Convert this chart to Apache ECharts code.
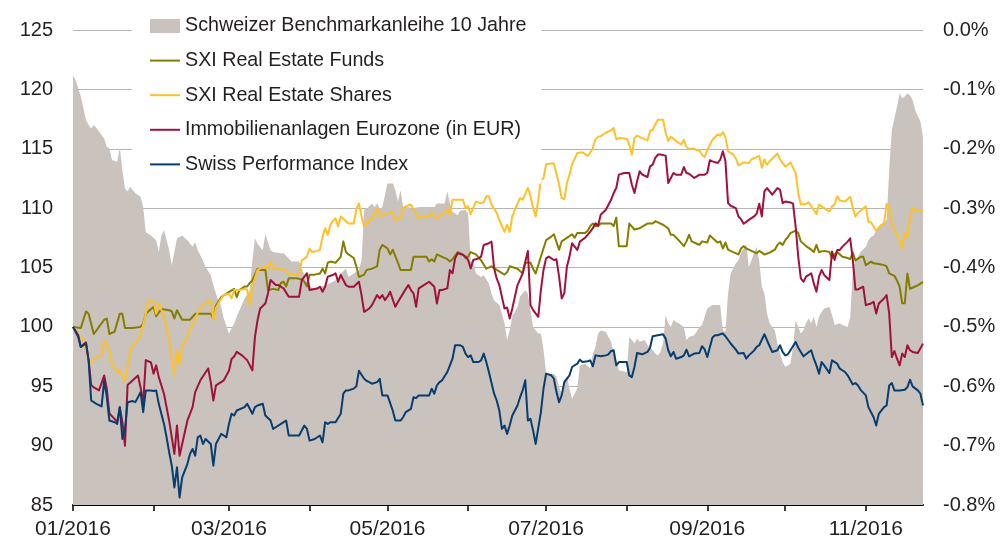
<!DOCTYPE html>
<html>
<head>
<meta charset="utf-8">
<script src="https://cdn.jsdelivr.net/npm/echarts@6/dist/echarts.min.js"></script>
<style>
  html, body { margin: 0; padding: 0; background: #fff; }
  #chart { width: 1001px; height: 539px; }
</style>
</head>
<body>
<div id="chart"></div>
<script>
// Days are counted from 1 January 2016 (day 0 = 01.01.2016).
const seriesNames = [
  'Schweizer Benchmarkanleihe 10 Jahre',
  'SXI Real Estate Funds',
  'SXI Real Estate Shares',
  'Immobilienanlagen Eurozone (in EUR)',
  'Swiss Performance Index'
];

// month starts (ticks) and labelled months
const tickMonths = [0, 1, 2, 3, 4, 5, 6, 7, 8, 9, 10];
const labelMonths = [0, 2, 4, 6, 8, 10];
const tickLabels = ['01/2016', '03/2016', '05/2016', '07/2016', '09/2016', '11/2016'];
const lastDay = 327;

const leftTicks = [85, 90, 95, 100, 105, 110, 115, 120, 125];
const rightTicks = [-0.8, -0.7, -0.6, -0.5, -0.4, -0.3, -0.2, -0.1, 0.0];

// Schweizer Benchmarkanleihe 10 Jahre, yield in %
const bondYield = [[0,-0.076],[1,-0.084],[3,-0.112],[5,-0.152],[6,-0.160],[7,-0.166],[8,-0.160],[10,-0.171],[11,-0.177],[12,-0.183],[13,-0.197],[14,-0.199],[15,-0.219],[17,-0.222],[18,-0.198],[19,-0.236],[20,-0.267],[21,-0.272],[22,-0.264],[23,-0.270],[24,-0.275],[26,-0.281],[27,-0.298],[28,-0.340],[30,-0.346],[32,-0.354],[33,-0.374],[34,-0.346],[35,-0.337],[36,-0.354],[37,-0.371],[38,-0.396],[40,-0.351],[42,-0.346],[44,-0.354],[46,-0.365],[47,-0.357],[48,-0.371],[50,-0.388],[51,-0.399],[53,-0.413],[54,-0.430],[55,-0.444],[57,-0.466],[58,-0.486],[60,-0.511],[62,-0.494],[63,-0.483],[66,-0.452],[68,-0.438],[69,-0.388],[70,-0.351],[71,-0.360],[73,-0.371],[74,-0.343],[76,-0.371],[77,-0.374],[80,-0.376],[81,-0.376],[83,-0.385],[84,-0.390],[87,-0.390],[88,-0.402],[90,-0.424],[92,-0.435],[95,-0.433],[98,-0.428],[100,-0.424],[102,-0.419],[103,-0.410],[105,-0.402],[106,-0.416],[108,-0.410],[110,-0.404],[111,-0.388],[112,-0.303],[113,-0.301],[115,-0.292],[116,-0.298],[117,-0.292],[118,-0.301],[119,-0.298],[121,-0.258],[122,-0.256],[123,-0.257],[124,-0.270],[125,-0.289],[126,-0.270],[127,-0.298],[129,-0.298],[130,-0.301],[133,-0.298],[139,-0.298],[140,-0.292],[143,-0.292],[144,-0.272],[145,-0.292],[146,-0.306],[148,-0.312],[149,-0.304],[151,-0.303],[152,-0.309],[153,-0.388],[154,-0.393],[155,-0.410],[157,-0.416],[158,-0.413],[160,-0.427],[161,-0.444],[162,-0.455],[164,-0.463],[165,-0.478],[166,-0.494],[167,-0.522],[168,-0.506],[169,-0.483],[171,-0.466],[172,-0.449],[174,-0.438],[175,-0.444],[176,-0.472],[177,-0.500],[179,-0.511],[180,-0.511],[181,-0.539],[182,-0.576],[183,-0.581],[185,-0.579],[186,-0.584],[187,-0.601],[188,-0.612],[189,-0.590],[190,-0.584],[191,-0.604],[192,-0.621],[194,-0.604],[195,-0.565],[197,-0.562],[199,-0.570],[200,-0.545],[201,-0.534],[202,-0.511],[203,-0.506],[205,-0.508],[206,-0.517],[207,-0.525],[208,-0.545],[209,-0.556],[210,-0.573],[213,-0.576],[214,-0.517],[215,-0.522],[216,-0.528],[217,-0.520],[218,-0.525],[220,-0.522],[221,-0.531],[223,-0.539],[224,-0.545],[225,-0.548],[226,-0.542],[227,-0.528],[228,-0.480],[229,-0.494],[230,-0.500],[231,-0.488],[232,-0.492],[233,-0.494],[235,-0.500],[236,-0.522],[237,-0.517],[239,-0.514],[241,-0.500],[242,-0.497],[243,-0.483],[244,-0.469],[246,-0.463],[249,-0.463],[250,-0.506],[251,-0.508],[252,-0.444],[253,-0.410],[255,-0.393],[256,-0.388],[257,-0.374],[258,-0.368],[259,-0.360],[260,-0.399],[261,-0.388],[262,-0.376],[263,-0.365],[264,-0.388],[265,-0.433],[266,-0.444],[267,-0.478],[268,-0.494],[270,-0.506],[271,-0.528],[272,-0.545],[273,-0.559],[274,-0.567],[275,-0.565],[276,-0.562],[277,-0.534],[278,-0.489],[279,-0.500],[280,-0.511],[281,-0.506],[282,-0.494],[283,-0.486],[284,-0.494],[285,-0.483],[286,-0.500],[287,-0.483],[288,-0.475],[289,-0.469],[291,-0.466],[292,-0.480],[293,-0.497],[295,-0.494],[296,-0.497],[298,-0.500],[299,-0.483],[300,-0.404],[301,-0.388],[302,-0.382],[303,-0.374],[305,-0.365],[306,-0.354],[307,-0.348],[308,-0.346],[309,-0.337],[310,-0.331],[312,-0.326],[313,-0.320],[314,-0.236],[315,-0.169],[317,-0.129],[318,-0.107],[319,-0.115],[320,-0.112],[321,-0.107],[322,-0.110],[323,-0.118],[324,-0.135],[326,-0.154],[327,-0.180]];

// SXI Real Estate Funds (indexed, 100 = 01.01.2016)
const funds = [[0,100],[3,99.9],[5,101.3],[6,101.1],[8,99.4],[10,100],[12,100.6],[13,100.7],[14,99.4],[16,99.6],[18,101.1],[19,101.1],[20,99.9],[23,99.9],[26,100],[27,100.3],[28,101.1],[31,101.7],[32,100.9],[34,101.5],[37,101.4],[38,101.3],[39,100.7],[40,101.4],[42,100.6],[45,100.6],[47,101.1],[50,101.1],[53,101.1],[54,100.7],[55,101.8],[57,102.5],[59,102.8],[62,103.2],[63,102.5],[64,103.1],[66,103.4],[67,103.4],[68,103.7],[69,103.9],[71,104.9],[72,104.8],[74,104.8],[75,103.1],[77,103.2],[79,103.1],[80,103.7],[81,103.8],[82,103.4],[83,104.1],[86,104.1],[88,104.0],[89,103.8],[90,103.4],[91,104.4],[93,104.4],[95,104.5],[96,104.9],[97,104.5],[98,105.4],[99,105.5],[101,105.4],[103,105.9],[104,107.2],[105,106.3],[106,106.1],[108,105.8],[109,105.1],[110,104.2],[112,104.4],[113,104.8],[115,104.9],[117,105.1],[118,106.5],[119,106.9],[121,106.6],[122,106.1],[123,106.5],[125,105.4],[126,104.8],[128,104.8],[130,104.8],[131,105.9],[132,105.9],[136,105.9],[137,105.5],[138,105.7],[139,105.5],[140,106.1],[142,105.9],[144,105.7],[145,105.5],[146,105.7],[148,106.3],[150,106.1],[151,105.8],[152,105.9],[153,106.3],[155,106.1],[157,105.6],[159,104.9],[161,105.1],[163,104.8],[166,104.4],[167,104.6],[168,105.1],[171,104.9],[173,104.5],[174,105.4],[176,105.4],[177,104.9],[178,104.5],[180,105.9],[181,106.6],[182,107.3],[184,107.6],[185,107.8],[187,106.5],[188,107.2],[190,107.5],[192,107.8],[193,107.5],[194,107.9],[197,107.9],[198,108.1],[199,108.5],[200,108.7],[201,108.5],[202,108.5],[203,108.7],[205,108.7],[207,108.7],[208,108.5],[209,109.2],[210,106.8],[213,106.8],[214,108.7],[216,108.2],[218,108.3],[219,108.45],[221,108.7],[223,108.7],[224,108.9],[225,108.8],[227,108.6],[229,108.3],[230,107.75],[231,107.75],[233,107.3],[235,106.8],[236,107.2],[237,107.75],[238,107.2],[240,107.0],[241,106.9],[242,107.2],[244,107.1],[245,107.7],[247,107.3],[248,107.1],[249,107.2],[250,106.6],[251,107.1],[252,106.5],[254,106.3],[256,106.1],[257,106.6],[258,106.8],[259,106.6],[260,106.5],[262,106.3],[263,106.2],[264,106.4],[266,106.1],[268,106.25],[270,106.5],[271,106.9],[272,107.1],[273,106.9],[274,107.3],[275,107.55],[276,107.9],[278,108.1],[279,107.9],[280,107.2],[282,106.8],[284,106.5],[285,106.3],[286,106.9],[287,106.3],[289,106.4],[291,106.3],[292,105.8],[293,106.1],[294,106.3],[295,106.1],[296,105.9],[298,105.8],[299,105.7],[300,106.25],[301,105.6],[303,105.9],[304,105.9],[305,105.2],[307,105.5],[308,105.35],[310,105.3],[312,105.2],[313,105.1],[314,104.5],[316,104.3],[317,103.9],[318,103.4],[319,102.0],[320,102.0],[321,104.5],[322,103.2],[324,103.4],[325,103.5],[327,103.8]];

// SXI Real Estate Shares
const shares = [[0,100],[3,99.15],[4,98.9],[6,97.2],[7,97.0],[9,97.5],[11,97.6],[12,98.9],[14,98.0],[15,96.9],[17,96.2],[18,96.3],[19,95.9],[20,95.4],[22,98.0],[23,98.45],[24,98.6],[26,99.3],[28,101.1],[29,102.25],[31,102.1],[32,101.1],[33,102.0],[35,100.85],[37,98.9],[38,97.5],[39,95.9],[40,98.0],[41,96.9],[42,98.3],[44,99.15],[45,99.9],[46,100],[47,100.7],[49,101.7],[50,101.8],[51,102.0],[53,102.25],[54,100.6],[55,101.6],[56,102.0],[58,102.7],[60,102.8],[61,102.4],[62,103.1],[64,103.1],[66,103.2],[67,103.15],[68,101.8],[69,103.4],[71,104.8],[72,104.9],[74,105.1],[75,104.9],[76,105.5],[77,104.9],[78,104.9],[82,104.8],[83,104.4],[87,104.4],[88,105.6],[90,105.9],[91,106.6],[92,106.3],[94,106.4],[95,106.5],[96,107.6],[97,108.3],[98,107.75],[99,108.6],[100,108.9],[101,109.15],[102,108.45],[103,109.3],[105,108.9],[106,108.7],[108,108.7],[109,109.9],[110,110.4],[111,109.3],[112,108.45],[113,108.7],[115,109.15],[116,109.45],[117,110.0],[118,109.3],[120,109.45],[123,109.7],[124,109.0],[126,109.15],[127,110.0],[128,110.15],[130,110.3],[131,109.9],[133,109.15],[135,109.3],[137,109.3],[138,109.6],[139,109.3],[140,109.15],[142,109.45],[143,109.7],[144,109.9],[145,109.45],[146,110.7],[148,110.7],[150,110.7],[151,110.0],[152,110.15],[153,109.5],[155,110.55],[157,110.4],[158,110.5],[159,111.0],[160,111.0],[161,110.3],[163,109.6],[164,109.0],[166,108.0],[167,108.6],[168,108.0],[169,109.3],[171,110.4],[172,110.85],[173,110.7],[175,111.7],[176,111.0],[177,110.0],[178,109.3],[179,110.7],[180,112.4],[181,112.5],[182,113.7],[184,113.75],[185,113.75],[187,112.0],[188,110.85],[189,110.75],[190,112.1],[191,112.8],[192,113.7],[193,114.15],[194,114.65],[196,114.7],[198,114.4],[199,114.65],[200,115.07],[201,115.8],[202,116.0],[203,116.06],[205,116.35],[207,116.55],[208,116.75],[209,115.8],[210,115.9],[213,115.85],[214,115.35],[215,114.5],[216,115.9],[217,116.1],[219,115.9],[221,115.7],[222,116.5],[223,116.6],[224,117.05],[225,117.45],[227,117.45],[228,116.35],[229,115.65],[230,116.0],[232,115.65],[234,115.35],[235,115.75],[236,115.15],[237,115.0],[239,115.0],[240,114.85],[241,114.85],[242,114.5],[243,114.3],[244,114.9],[246,115.75],[248,116.2],[249,116.1],[250,116.4],[251,116.0],[252,114.8],[254,114.5],[255,114.2],[256,113.6],[258,113.85],[260,113.8],[261,114.1],[262,114.2],[263,114.3],[264,114.4],[265,113.4],[266,114.1],[267,113.65],[268,113.95],[271,114.6],[272,114.1],[274,113.5],[275,113.65],[276,113.85],[278,112.95],[279,111.3],[280,110.3],[282,110.35],[283,110.5],[286,109.5],[287,110.3],[289,110.0],[291,109.7],[292,110.15],[293,110.3],[294,111.0],[295,110.65],[297,110.55],[299,110.95],[300,110.0],[301,109.3],[302,109.6],[305,110.15],[306,108.85],[307,108.8],[308,108.45],[309,108.1],[311,108.6],[312,108.7],[313,110.35],[314,110.15],[315,108.6],[316,108.15],[318,107.3],[319,106.6],[320,107.9],[321,107.55],[322,109.15],[323,110.0],[324,109.85],[325,109.8],[327,109.7]];

// Immobilienanlagen Eurozone (in EUR)
const eurozone = [[0,100],[2,99.15],[3,98.3],[5,98.7],[6,97.2],[7,95.1],[8,94.9],[10,94.65],[12,95.9],[13,94.8],[14,92.7],[16,92.25],[17,91.97],[18,93.24],[19,92.0],[20,90.0],[21,95.1],[23,95.5],[25,95.9],[26,94.9],[27,93.5],[28,97.2],[30,97.0],[31,96.06],[32,96.76],[33,95.77],[35,94.37],[37,92.1],[38,90.7],[39,89.3],[40,91.7],[41,89.15],[42,90.14],[44,92.1],[46,93.24],[47,94.5],[49,95.5],[52,96.5],[53,95.35],[54,93.8],[55,95.07],[58,95.5],[60,96.3],[61,97.3],[62,97.5],[63,97.9],[64,97.75],[65,97.6],[67,97.2],[69,96.34],[70,99.15],[71,100.56],[72,101.55],[74,101.97],[75,102.82],[76,103.94],[78,103.52],[79,103.52],[80,103.38],[81,103.24],[83,102.54],[85,102.54],[87,102.54],[88,103.94],[90,104.51],[91,103.1],[92,103.15],[94,103.24],[95,103.38],[96,102.96],[97,103.38],[98,104.23],[100,104.37],[101,104.51],[102,103.8],[103,104.37],[105,103.52],[106,103.38],[108,103.38],[110,103.8],[111,102.68],[112,101.27],[114,101.55],[115,101.83],[117,102.68],[118,102.4],[119,102.68],[120,102.25],[121,102.54],[122,102.96],[124,101.69],[125,102.1],[127,102.82],[129,103.52],[130,103.1],[131,102.82],[132,101.69],[133,103.24],[135,103.52],[137,103.8],[139,103.38],[140,101.97],[141,103.1],[142,103.1],[144,103.24],[145,104.79],[146,104.51],[147,105.77],[148,106.2],[150,106.06],[151,105.92],[152,105.63],[153,104.93],[154,105.63],[156,105.77],[157,105.92],[158,106.9],[160,107.04],[161,107.18],[162,104.93],[163,104.08],[164,103.52],[166,101.55],[167,101.63],[168,100.7],[169,101.55],[170,102.54],[171,103.52],[173,104.51],[174,105.49],[175,106.39],[176,101.83],[177,101.41],[179,100.85],[180,103.1],[181,104.79],[182,105.77],[183,105.92],[185,105.63],[186,105.69],[187,104.23],[188,102.39],[189,102.82],[190,105.07],[191,105.92],[192,107.04],[194,106.48],[195,107.18],[197,107.5],[199,108.03],[200,108.31],[201,108.73],[202,108.51],[203,109.44],[205,109.86],[206,110.28],[207,110.7],[208,111.27],[209,111.69],[210,112.82],[212,112.96],[214,112.96],[215,111.97],[216,111.27],[217,112.25],[218,113.1],[219,112.82],[221,112.62],[222,113.52],[223,113.66],[224,114.23],[225,114.51],[226,114.51],[228,114.42],[229,112.11],[230,112.54],[231,112.96],[232,112.82],[234,112.82],[235,113.46],[236,112.96],[237,112.9],[239,112.54],[240,112.68],[241,112.82],[243,112.82],[244,112.96],[245,114.03],[246,113.94],[248,113.8],[249,114.08],[250,114.79],[251,113.94],[252,110.42],[253,110.2],[255,110.0],[256,109.3],[257,109.07],[258,108.68],[260,109.01],[262,109.3],[263,109.52],[264,110.37],[265,109.3],[266,111.41],[267,111.69],[268,111.41],[269,111.13],[271,111.69],[272,111.55],[273,110.42],[274,110.56],[276,110.48],[277,110.37],[278,108.45],[279,105.92],[280,104.08],[281,103.8],[282,104.23],[284,104.51],[285,103.66],[286,102.96],[287,104.23],[288,104.79],[289,104.37],[291,103.94],[292,106.34],[293,105.63],[294,106.48],[295,106.48],[296,106.76],[298,107.18],[299,107.46],[300,105.63],[301,103.15],[302,103.15],[304,103.38],[305,101.83],[307,101.97],[308,102.11],[309,101.13],[310,101.97],[312,102.39],[313,102.68],[314,101.13],[315,97.46],[316,97.97],[317,97.32],[318,96.76],[319,97.75],[320,97.46],[321,98.45],[322,98.03],[323,97.89],[325,97.8],[327,98.59]];

// Swiss Performance Index
const spi = [[0,100],[2,99.3],[3,98.31],[5,98.6],[6,97.18],[7,93.8],[9,93.52],[11,93.3],[12,95.5],[13,94.08],[14,92.11],[16,91.97],[17,91.83],[18,93.24],[19,90.56],[20,91.41],[21,93.66],[23,93.75],[24,93.66],[26,94.5],[27,92.82],[28,94.65],[30,94.65],[31,94.6],[32,94.65],[33,93.52],[35,91.83],[36,90.7],[37,89.44],[38,88.31],[39,86.48],[40,88.17],[41,85.63],[42,87.32],[44,88.45],[45,89.3],[46,89.72],[47,89.15],[48,90.7],[49,90.85],[50,90.14],[51,90.56],[53,90.14],[54,88.31],[55,90.14],[57,90.99],[58,90.85],[59,90.7],[60,91.83],[61,92.68],[62,92.54],[63,92.96],[66,93.24],[67,93.52],[68,93.1],[69,92.68],[70,93.24],[71,93.38],[73,93.52],[74,92.54],[76,92.11],[77,91.41],[78,91.55],[80,91.83],[82,92.11],[83,90.85],[85,90.85],[87,90.85],[89,91.69],[90,91.41],[91,90.42],[93,90.56],[95,90.85],[96,90.28],[97,91.97],[98,91.83],[99,91.97],[101,91.97],[103,92.68],[104,94.37],[105,94.65],[106,94.65],[108,94.8],[109,95.0],[110,96.3],[112,95.63],[113,95.44],[114,95.35],[115,95.21],[117,95.35],[118,95.63],[119,94.23],[121,94.23],[123,92.96],[124,92.11],[126,92.11],[127,92.39],[128,92.82],[130,93.1],[131,94.08],[132,94.0],[133,94.23],[135,94.23],[137,94.23],[138,94.79],[139,94.37],[140,95.07],[141,95.35],[142,95.5],[144,96.2],[145,96.76],[146,97.32],[147,98.45],[149,98.45],[150,98.31],[151,97.75],[152,97.46],[153,97.6],[154,97.04],[156,97.04],[157,97.18],[158,97.75],[159,97.04],[160,96.2],[162,94.37],[163,93.8],[164,92.96],[165,91.41],[166,91.69],[167,90.99],[168,91.69],[169,92.54],[171,93.38],[172,94.08],[173,94.65],[174,95.5],[175,92.11],[176,92.25],[177,91.27],[178,90.14],[180,92.82],[181,94.79],[182,96.06],[184,95.92],[185,95.63],[186,94.51],[187,93.66],[188,94.23],[189,95.35],[191,95.92],[192,96.62],[194,96.9],[195,97.24],[196,97.04],[198,97.1],[199,97.18],[200,96.68],[201,97.6],[203,97.52],[205,97.6],[206,97.69],[207,97.97],[208,98.03],[209,96.76],[210,97.04],[213,97.04],[214,95.92],[215,95.77],[216,96.62],[217,97.8],[219,97.69],[221,97.89],[222,98.25],[223,99.21],[225,99.3],[227,99.38],[228,99.01],[229,98.03],[230,97.52],[231,97.89],[232,97.32],[234,97.46],[235,97.6],[236,98.08],[237,97.52],[239,97.75],[241,97.8],[242,98.37],[243,98.1],[244,97.46],[246,99.1],[247,99.3],[248,99.3],[249,99.38],[250,99.44],[251,99.21],[253,98.6],[255,98.08],[256,97.75],[258,97.8],[259,97.32],[260,97.6],[262,98.0],[263,98.31],[264,98.45],[266,99.38],[267,98.87],[268,98.37],[269,97.89],[271,98.03],[272,98.45],[273,97.89],[274,97.6],[275,97.69],[276,98.03],[278,98.73],[279,98.25],[281,97.52],[282,97.69],[284,98.03],[285,97.32],[286,96.76],[287,96.06],[288,97.04],[289,96.76],[291,96.11],[292,97.18],[294,96.9],[295,96.48],[297,96.2],[298,95.92],[300,95.15],[301,95.27],[302,95.07],[303,94.7],[305,94.23],[306,93.24],[308,92.39],[309,91.69],[310,92.68],[312,93.24],[313,93.38],[314,95.07],[315,95.27],[316,94.65],[318,94.65],[320,94.7],[321,94.93],[322,95.55],[323,94.99],[325,94.65],[326,94.37],[327,93.38]];

const colors = {
  bond: '#c9c2bd',
  funds: '#857d00',
  shares: '#fdc12a',
  eurozone: '#a0123c',
  spi: '#083d70',
  text: '#231f20',
  grid: '#b5b5b5'
};

const FONT = '"Liberation Sans", Arial, Helvetica, sans-serif';
const DAY_MS = 86400000;
// day number of the first day of month m (2016)
const monthStartDay = m => Math.round((Date.UTC(2016, m, 1) - Date.UTC(2016, 0, 1)) / DAY_MS);
const LINE_ICON = 'path://M0,0H30V2H0Z';

const chart = echarts.init(document.getElementById('chart'), null, { renderer: 'canvas' });

const lineSeries = (name, data, color) => ({
  name: name,
  type: 'line',
  yAxisIndex: 0,
  data: data,
  symbol: 'none',
  showSymbol: false,
  smooth: false,
  animation: false,
  itemStyle: { color: color },
  lineStyle: { color: color, width: 2, join: 'round' },
  z: 3
});

chart.setOption({
  animation: false,
  backgroundColor: '#fff',
  textStyle: { fontFamily: FONT },
  grid: { left: 73, right: 78, top: 30, bottom: 34, outerBoundsMode: 'none', containLabel: false },
  legend: {
    orient: 'vertical',
    left: 132,
    top: 7,
    padding: [9, 15, 9, 18],
    backgroundColor: '#ffffff',
    itemWidth: 30,
    itemHeight: 14,
    itemGap: 14.6,
    symbolKeepAspect: true,
    textStyle: { fontSize: 19.7, color: colors.text, fontFamily: FONT, lineHeight: 20 },
    data: [
      { name: seriesNames[0], icon: 'rect', itemStyle: { color: colors.bond } },
      { name: seriesNames[1], icon: LINE_ICON, itemStyle: { color: colors.funds } },
      { name: seriesNames[2], icon: LINE_ICON, itemStyle: { color: colors.shares } },
      { name: seriesNames[3], icon: LINE_ICON, itemStyle: { color: colors.eurozone } },
      { name: seriesNames[4], icon: LINE_ICON, itemStyle: { color: colors.spi } }
    ],
    z: 10
  },
  xAxis: {
    type: 'value',
    min: 0,
    max: lastDay,
    axisLine: { show: true, onZero: false, lineStyle: { color: '#000', width: 2 } },
    axisTick: {
      show: true,
      length: 6,
      lineStyle: { color: '#000', width: 1.5 },
      customValues: tickMonths.map(monthStartDay)
    },
    minorTick: { show: false },
    axisLabel: {
      show: true,
      fontSize: 21,
      color: colors.text,
      fontFamily: FONT,
      margin: 14,
      hideOverlap: false,
      customValues: labelMonths.map(monthStartDay),
      formatter: function (value) {
        const i = labelMonths.map(monthStartDay).indexOf(Math.round(value));
        return i >= 0 ? tickLabels[i] : '';
      }
    },
    splitLine: { show: false }
  },
  yAxis: [
    {
      type: 'value',
      min: leftTicks[0],
      max: leftTicks[leftTicks.length - 1],
      interval: 5,
      position: 'left',
      axisLine: { show: false },
      axisTick: { show: false },
      axisLabel: { fontSize: 20, color: colors.text, fontFamily: FONT, margin: 20 },
      splitLine: { show: true, lineStyle: { color: colors.grid, width: 1 } }
    },
    {
      type: 'value',
      min: rightTicks[0],
      max: rightTicks[rightTicks.length - 1],
      interval: 0.1,
      position: 'right',
      axisLine: { show: false },
      axisTick: { show: false },
      axisLabel: {
        fontSize: 20, color: colors.text, fontFamily: FONT, margin: 20,
        formatter: v => (Math.abs(v) < 1e-9 ? '0.0' : v.toFixed(1)) + '%'
      },
      splitLine: { show: false }
    }
  ],
  series: [
    {
      name: seriesNames[0],
      type: 'line',
      yAxisIndex: 1,
      data: bondYield,
      symbol: 'none',
      showSymbol: false,
      animation: false,
      itemStyle: { color: colors.bond },
      lineStyle: { width: 0, color: colors.bond },
      areaStyle: { color: colors.bond, opacity: 1, origin: 'start' },
      z: 1
    },
    lineSeries(seriesNames[1], funds, colors.funds),
    lineSeries(seriesNames[2], shares, colors.shares),
    lineSeries(seriesNames[3], eurozone, colors.eurozone),
    lineSeries(seriesNames[4], spi, colors.spi)
  ]
});
</script>
</body>
</html>
